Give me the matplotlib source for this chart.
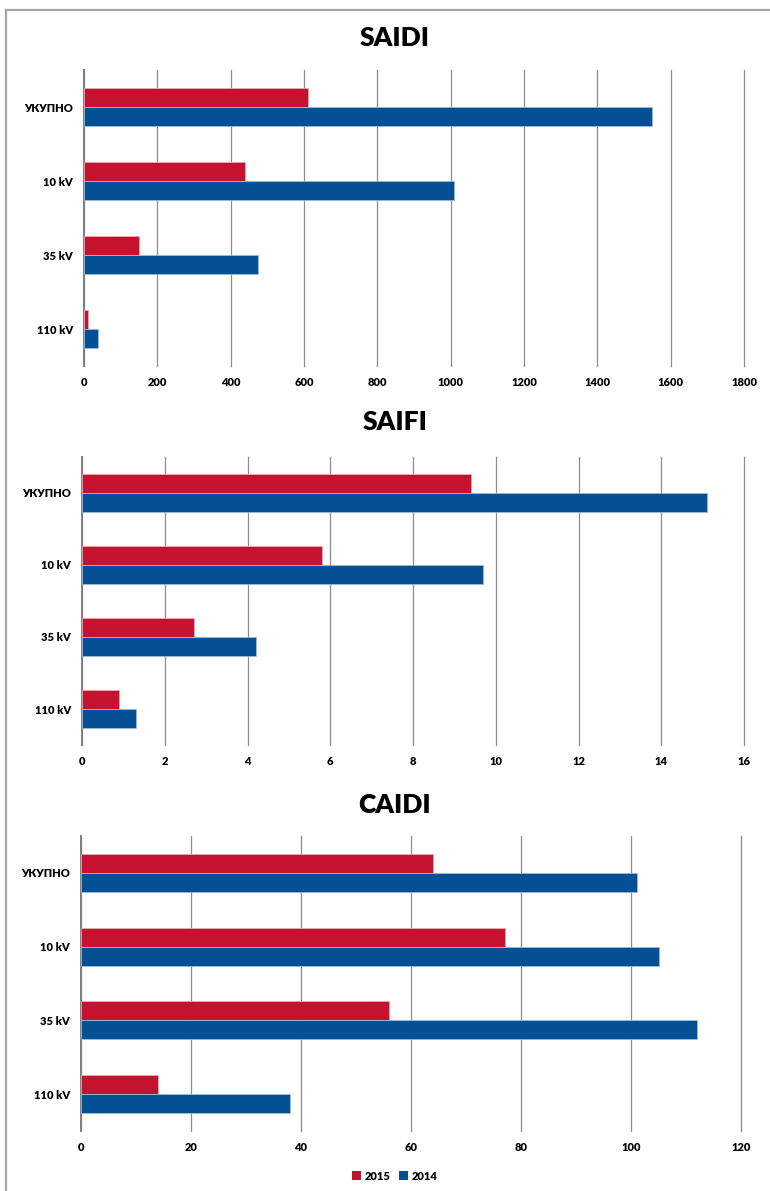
import matplotlib
matplotlib.use("Agg")
import matplotlib.pyplot as plt
import numpy as np
from matplotlib.patches import Patch
from matplotlib.lines import Line2D

plt.rcParams['font.family'] = ['Lato', 'DejaVu Sans']
plt.rcParams['font.weight'] = 'bold'

categories = ["110 kV", "35 kV", "10 kV", "УКУПНО"]
years = ["2015", "2014"]

saidi_2015 = [10, 150, 440, 610]
saidi_2014 = [38, 474, 1010, 1550]
saidi_ticks = [0, 200, 400, 600, 800, 1000, 1200, 1400, 1600, 1800]

saifi_2015 = [0.9, 2.7, 5.8, 9.4]
saifi_2014 = [1.3, 4.2, 9.7, 15.1]
saifi_ticks = [0, 2, 4, 6, 8, 10, 12, 14, 16]

caidi_2015 = [14, 56, 77, 64]
caidi_2014 = [38, 112, 105, 101]
caidi_ticks = [0, 20, 40, 60, 80, 100, 120]

RED = "#C4122F"
BLUE = "#035194"
LABEL_WEIGHT = 'heavy'

W, H = 770, 1191
fig = plt.figure(figsize=(W / 100, H / 100), dpi=100)

# outer frame (top and left edges)
fig.add_artist(Line2D([6 / W, 6 / W], [0, 1 - 10 / H], transform=fig.transFigure,
                      color="#a6a6a6", lw=1.6))
fig.add_artist(Line2D([6 / W, 1], [1 - 10 / H, 1 - 10 / H], transform=fig.transFigure,
                      color="#a6a6a6", lw=1.6))


def panel(box, title, title_y, v15, v14, ticks):
    x0, x1, y0, y1 = box
    ax = fig.add_axes([x0 / W, 1 - y1 / H, (x1 - x0) / W, (y1 - y0) / H])
    pos = np.arange(len(categories))
    h = 0.257
    ax.barh(pos + h / 2, v15, height=h, color=RED, edgecolor="#e8aab4", linewidth=0.6, zorder=3)
    ax.barh(pos - h / 2, v14, height=h, color=BLUE, edgecolor="#9fbcd8", linewidth=0.6, zorder=3)
    ax.set_ylim(-0.5, 3.5)
    ax.set_xlim(ticks[0], ticks[-1])
    ax.set_xticks(ticks)
    ax.set_xticklabels([str(t) for t in ticks], fontsize=8, fontweight=LABEL_WEIGHT)
    ax.set_yticks(pos)
    ax.set_yticklabels(categories, fontsize=8, fontweight=LABEL_WEIGHT)
    ax.tick_params(axis='both', length=0)
    ax.tick_params(axis='x', pad=8)
    ax.tick_params(axis='y', pad=8)
    ax.xaxis.grid(True, color="#8c8c8c", lw=0.9, zorder=0)
    for gl in ax.get_xgridlines():
        gl.set_clip_on(False)
    ax.set_axisbelow(True)
    for s in ("top", "right", "bottom"):
        ax.spines[s].set_visible(False)
    ax.spines["left"].set_color("#7f7f7f")
    ax.spines["left"].set_linewidth(1.4)
    ax.set_facecolor("none")
    fig.text(395 / W, 1 - title_y / H, title, ha="center", va="center",
             fontsize=19, fontweight='heavy')
    return ax


panel((84, 744, 70, 366), "SAIDI", 38, saidi_2015, saidi_2014, saidi_ticks)
panel((82, 744, 457, 745), "SAIFI", 422, saifi_2015, saifi_2014, saifi_ticks)
panel((81, 741, 836, 1131), "CAIDI", 805, caidi_2015, caidi_2014, caidi_ticks)

handles = [Patch(facecolor=RED, label=years[0]), Patch(facecolor=BLUE, label=years[1])]
fig.legend(handles=handles, loc="center", bbox_to_anchor=(395 / W, 1 - 1176 / H),
           ncol=2, frameon=False, handlelength=0.8, handleheight=0.8,
           handletextpad=0.3, columnspacing=0.8, prop={'weight': LABEL_WEIGHT, 'size': 8})

fig.savefig("out.png", dpi=100)
